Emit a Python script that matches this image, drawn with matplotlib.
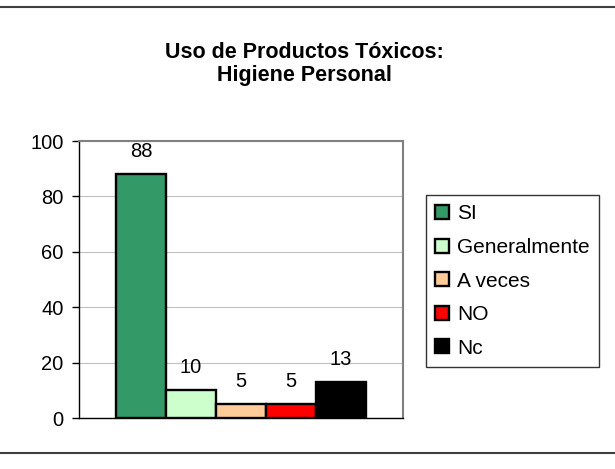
import matplotlib
matplotlib.use("Agg")
import matplotlib.pyplot as plt
from matplotlib.lines import Line2D
from matplotlib.patches import Patch

plt.rcParams['font.family'] = ['Liberation Sans', 'DejaVu Sans']

categories = ["SI", "Generalmente", "A veces", "NO", "Nc"]
values = [88, 10, 5, 5, 13]
colors = ["#339966", "#CCFFCC", "#FFCC99", "#FF0000", "#000000"]
yticks = [0, 20, 40, 60, 80, 100]
title_lines = ["Uso de Productos Tóxicos:", "Higiene Personal"]

W, H = 615, 469
fig = plt.figure(figsize=(W / 100, H / 100), dpi=100)
ax = fig.add_axes([79 / W, 1 - 418 / H, 324 / W, 277 / H])

n = len(values)
half = 324 / 50 / 2
for i, (c, v, col) in enumerate(zip(categories, values, colors)):
    x = i - (n - 1) / 2
    ax.bar(x, v, width=1.0, color=col, edgecolor="black", linewidth=1.7, label=c, zorder=3)
    ax.annotate(str(v), (x, v), xytext=(0, 12.2), textcoords="offset points",
                ha="center", va="baseline", fontsize=14.5)

ax.set_xlim(-half, half)
ax.set_ylim(0, 100)
ax.set_yticks(yticks)
ax.tick_params(axis="y", labelsize=14.5, length=5, width=1, direction="out", pad=6)
ax.set_xticks([])
ax.yaxis.grid(True, color="#c0c0c0", linewidth=0.8, zorder=0)
for s in ["top", "right"]:
    ax.spines[s].set_color("#808080")
    ax.spines[s].set_linewidth(1.5)
for s in ["left", "bottom"]:
    ax.spines[s].set_color("black")
    ax.spines[s].set_linewidth(1)

fig.text(304 / W, 1 - 57.5 / H, title_lines[0], ha="center", va="baseline",
         fontsize=15.5, fontweight="bold")
fig.text(304 / W, 1 - 81 / H, title_lines[1], ha="center", va="baseline",
         fontsize=15.5, fontweight="bold")

handles = [Patch(facecolor=col, edgecolor="black", linewidth=1.7) for col in colors]
leg = fig.legend(handles, categories, loc="upper left",
                 bbox_to_anchor=(426 / W, 1 - 195 / H), bbox_transform=fig.transFigure,
                 fontsize=15, frameon=True, fancybox=False, edgecolor="black",
                 handlelength=0.65, handleheight=0.65, handletextpad=0.38,
                 labelspacing=0.7, borderpad=0.45, borderaxespad=0)
leg.get_frame().set_linewidth(1)

fig.add_artist(Line2D([0, 1], [1 - 7 / H, 1 - 7 / H], color="#404040", linewidth=1.5,
                      transform=fig.transFigure))
fig.add_artist(Line2D([0, 1], [1 - 453 / H, 1 - 453 / H], color="#404040", linewidth=1.5,
                      transform=fig.transFigure))

fig.savefig("out.png", dpi=100)
